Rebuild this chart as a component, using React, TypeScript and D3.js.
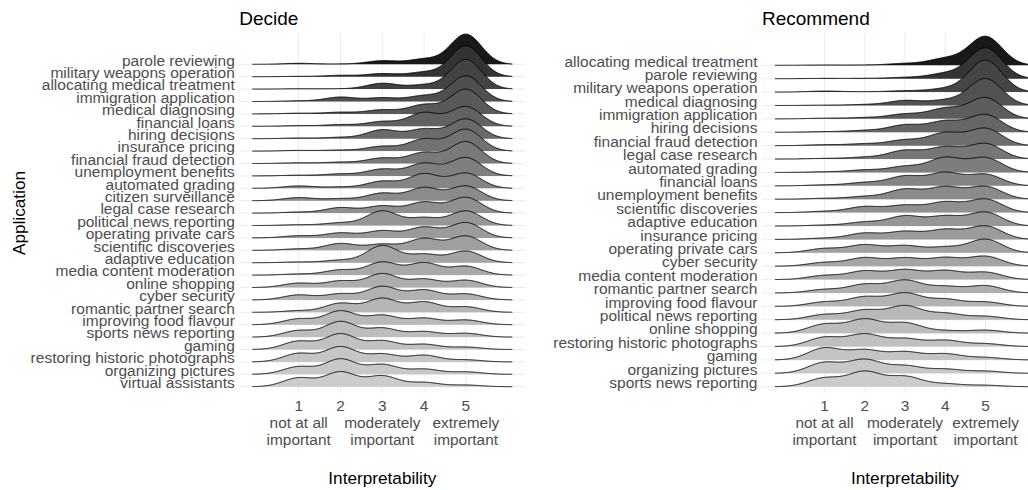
import React from "react";
import * as d3 from "d3";

// ---------- DATA ----------
const levels = [1, 2, 3, 4, 5];
const tickLabels = ["1\nnot at all\nimportant", "2", "3\nmoderately\nimportant", "4", "5\nextremely\nimportant"];

const decideCategories = [
  "parole reviewing", "military weapons operation", "allocating medical treatment",
  "immigration application", "medical diagnosing", "financial loans", "hiring decisions",
  "insurance pricing", "financial fraud detection", "unemployment benefits",
  "automated grading", "citizen surveillance", "legal case research",
  "political news reporting", "operating private cars", "scientific discoveries",
  "adaptive education", "media content moderation", "online shopping", "cyber security",
  "romantic partner search", "improving food flavour", "sports news reporting", "gaming",
  "restoring historic photographs", "organizing pictures", "virtual assistants",
];
// share of responses for levels 1..5
const decideShares = [
  [3, 1, 11, 16, 93], [1, 4, 9, 13, 91], [1, 1, 17, 12, 87], [2, 13, 11, 17, 76],
  [2, 5, 12, 27, 73], [2, 5, 14, 40, 58], [2, 4, 26, 28, 58], [2, 3, 14, 35, 64],
  [2, 4, 16, 32, 64], [2, 6, 20, 37, 54], [7, 4, 21, 43, 45], [9, 6, 22, 38, 43],
  [3, 16, 21, 32, 46], [2, 7, 38, 20, 38], [6, 14, 20, 30, 43], [4, 19, 17, 33, 40],
  [2, 7, 47, 23, 32], [3, 14, 35, 33, 24], [12, 18, 38, 23, 20], [14, 17, 38, 28, 17],
  [5, 28, 43, 32, 17], [16, 38, 26, 18, 13], [19, 45, 26, 16, 11], [24, 45, 25, 15, 7],
  [28, 50, 26, 22, 7], [25, 50, 32, 17, 8], [27, 45, 33, 13, 5],
];

const recommendCategories = [
  "allocating medical treatment", "parole reviewing", "military weapons operation",
  "medical diagnosing", "immigration application", "hiring decisions",
  "financial fraud detection", "legal case research", "automated grading",
  "financial loans", "unemployment benefits", "scientific discoveries",
  "adaptive education", "insurance pricing", "operating private cars", "cyber security",
  "media content moderation", "romantic partner search", "improving food flavour",
  "political news reporting", "online shopping", "restoring historic photographs",
  "gaming", "organizing pictures", "sports news reporting",
];
const recommendShares = [
  [1, 1, 6, 22, 96], [1, 1, 4, 16, 97], [3, 1, 4, 10, 98], [1, 3, 16, 16, 88],
  [2, 4, 15, 32, 66], [2, 6, 24, 36, 58], [3, 6, 18, 40, 55], [2, 6, 28, 38, 50],
  [2, 8, 19, 47, 47], [3, 11, 32, 43, 38], [3, 9, 33, 40, 42], [4, 19, 23, 33, 43],
  [3, 13, 33, 32, 46], [4, 20, 25, 31, 43], [14, 26, 23, 18, 45], [12, 27, 26, 27, 32],
  [14, 29, 33, 30, 25], [11, 27, 40, 20, 23], [15, 32, 45, 24, 15], [18, 33, 48, 22, 12],
  [30, 46, 34, 8, 10], [36, 48, 30, 24, 11], [44, 36, 29, 22, 9], [39, 49, 27, 15, 8],
  [30, 52, 35, 10, 5],
];

// ---------- LAYOUT ----------
const W = 1028;
const H = 490;
const FONT = "'Liberation Sans', Arial, Helvetica, sans-serif";
const panelTop = 33;
const panelBottom = 393;

type PanelSpec = {
  title: string;
  cats: string[];
  shares: number[][];
  bw: number;
  left: number;
  right: number;
  firstY: number;
  lastY: number;
  maxH: number;
};

const panels: PanelSpec[] = [
  { title: "Decide", cats: decideCategories, shares: decideShares, bw: 0.37, left: 239.3, right: 525.3, firstY: 64.3, lastY: 386.7, maxH: 31 },
  { title: "Recommend", cats: recommendCategories, shares: recommendShares, bw: 0.41, left: 762, right: 1048, firstY: 65.3, lastY: 386.7, maxH: 32 },
];

function greyFill(i: number, n: number) {
  const s = 0.1, e = 0.8, g = 2.2;
  const t = n === 1 ? 0 : i / (n - 1);
  const v = Math.pow(Math.pow(s, g) + t * (Math.pow(e, g) - Math.pow(s, g)), 1 / g);
  const c = Math.round(v * 255);
  return `rgb(${c},${c},${c})`;
}

function densityOf(shares: number[], bw: number, from: number, to: number, n = 512) {
  const total = d3.sum(shares);
  const pts: { x: number; y: number }[] = [];
  for (let i = 0; i < n; i++) {
    const x = from + ((to - from) * i) / (n - 1);
    let y = 0;
    shares.forEach((s, k) => {
      const z = (x - levels[k]) / bw;
      y += (s / total) * Math.exp(-0.5 * z * z) / (bw * Math.sqrt(2 * Math.PI));
    });
    pts.push({ x, y });
  }
  return pts;
}

function Panel({ p }: { p: PanelSpec }) {
  const from = d3.min(levels)! - 3 * p.bw;
  const to = d3.max(levels)! + 3 * p.bw;
  const span = to - from;
  const x = d3.scaleLinear().domain([from - 0.05 * span, to + 0.05 * span]).range([p.left, p.right]);
  const yCat = d3.scalePoint<string>().domain(p.cats).range([p.firstY, p.lastY]);
  const dens = p.shares.map((s) => densityOf(s, p.bw, from, to));
  const maxD = d3.max(dens, (d) => d3.max(d, (q) => q.y))!;
  const h = d3.scaleLinear().domain([0, maxD]).range([0, p.maxH]);
  const cx = (p.left + p.right) / 2;

  return (
    <g>
      {/* grid */}
      {p.cats.map((c) => (
        <line key={"hg" + c} x1={p.left} x2={p.right} y1={yCat(c)} y2={yCat(c)} stroke="#ebebeb" strokeWidth={1} />
      ))}
      {levels.map((l) => (
        <line key={"vg" + l} x1={x(l)} x2={x(l)} y1={panelTop} y2={panelBottom} stroke="#ebebeb" strokeWidth={1} />
      ))}
      {/* ridges */}
      {p.cats.map((c, i) => {
        const base = yCat(c)!;
        const area = d3.area<{ x: number; y: number }>().x((d) => x(d.x)).y0(base).y1((d) => base - h(d.y));
        const line = d3.line<{ x: number; y: number }>().x((d) => x(d.x)).y((d) => base - h(d.y));
        return (
          <g key={"r" + c}>
            <path d={area(dens[i]) || ""} fill={greyFill(i, p.cats.length)} stroke="none" />
            <path d={line(dens[i]) || ""} fill="none" stroke="#000" strokeWidth={0.95} />
          </g>
        );
      })}
      {/* y labels */}
      {p.cats.map((c) => (
        <text key={"yl" + c} x={p.left - 4.5} y={yCat(c)! + 1.2} textAnchor="end" fontSize={15.5} fill="#4d4d4d" fontFamily={FONT}>
          {c}
        </text>
      ))}
      {/* x tick labels */}
      {levels.map((l, i) => (
        <text key={"xt" + l} textAnchor="middle" fontSize={15.4} fill="#4d4d4d" fontFamily={FONT}>
          {tickLabels[i].split("\n").map((s, j) => (
            <tspan key={j} x={x(l)} y={410.5 + j * 17}>{s}</tspan>
          ))}
        </text>
      ))}
      {/* titles */}
      <text x={p.left} y={25} fontSize={19} fill="#000" fontFamily={FONT}>{p.title}</text>
      <text x={cx} y={484} textAnchor="middle" fontSize={17.2} fill="#000" fontFamily={FONT}>Interpretability</text>
    </g>
  );
}

export default function App() {
  return (
    <svg width={W} height={H} viewBox={`0 0 ${W} ${H}`} style={{ position: "absolute", left: 0, top: 0, background: "#fff" }}>
      <rect x={0} y={0} width={W} height={H} fill="#fff" />
      {panels.map((p) => (
        <Panel key={p.title} p={p} />
      ))}
      <text transform={`translate(24.5,${(panelTop + panelBottom) / 2}) rotate(-90)`} textAnchor="middle" fontSize={17.2} fill="#000" fontFamily={FONT}>
        Application
      </text>
    </svg>
  );
}
